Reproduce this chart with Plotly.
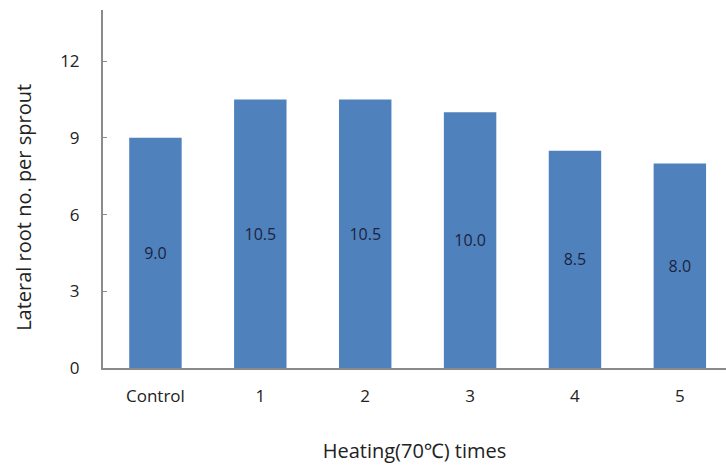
import plotly.graph_objects as go

categories = ["Control", "1", "2", "3", "4", "5"]
lateral_roots = [9.0, 10.5, 10.5, 10.0, 8.5, 8.0]
y_ticks = [0, 3, 6, 9, 12]

axis_color = "#8a8a8a"
font_family = "Open Sans, Noto Sans, sans-serif"
text_color = "#222222"

fig = go.Figure(
    go.Bar(
        x=list(range(len(categories))),
        y=lateral_roots,
        width=0.5,
        marker=dict(color="#4f81bd", line=dict(width=0)),
        text=[f"{v:.1f}" for v in lateral_roots],
        textposition="inside",
        insidetextanchor="middle",
        textfont=dict(family=font_family, size=16, color="#1c2340"),
        textangle=0,
    )
)

fig.update_layout(
    width=726,
    height=466,
    margin=dict(l=103, r=0, t=10, b=98),
    paper_bgcolor="white",
    plot_bgcolor="white",
    showlegend=False,
    font=dict(family=font_family, size=17, color=text_color),
    uniformtext=dict(mode="show", minsize=16),
)

fig.update_xaxes(
    range=[-0.5, 5.44],
    tickmode="array",
    tickvals=list(range(len(categories))),
    ticktext=categories,
    showline=True,
    linecolor=axis_color,
    linewidth=2,
    ticks="",
    showgrid=False,
    zeroline=False,
    ticklabelstandoff=12,
    tickfont=dict(size=17, color=text_color),
    title=dict(text="Heating(70℃) times", standoff=38, font=dict(size=20, color=text_color)),
)

fig.update_yaxes(
    range=[0, 14],
    tickmode="array",
    tickvals=y_ticks,
    ticktext=[str(t) for t in y_ticks],
    showline=True,
    linecolor=axis_color,
    linewidth=2,
    ticks="inside",
    ticklen=4,
    tickcolor=axis_color,
    showgrid=False,
    zeroline=False,
    ticklabelstandoff=18,
    tickfont=dict(size=17, color=text_color),
)

# Vertical axis title, placed a little below the plot's midpoint
fig.add_annotation(
    text="Lateral root no. per sprout",
    xref="paper",
    yref="paper",
    x=-0.128,
    y=0.448,
    xanchor="center",
    yanchor="middle",
    textangle=-90,
    showarrow=False,
    font=dict(family=font_family, size=20, color=text_color),
)

fig.write_html("out.html")
